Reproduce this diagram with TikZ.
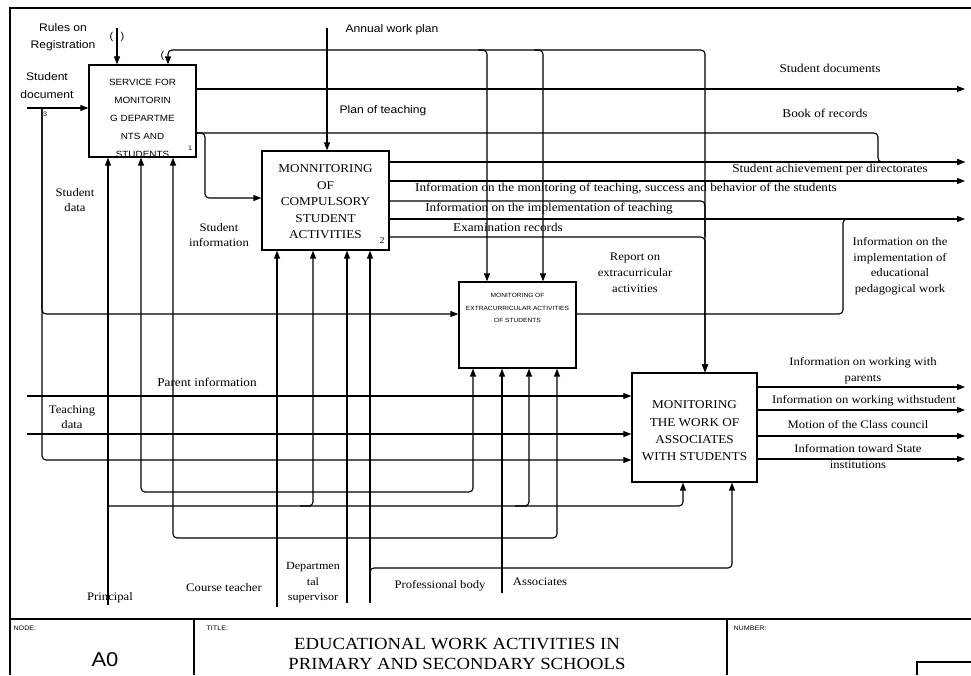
\documentclass[tikz,border=0pt]{standalone}
\usepackage{fontspec}
\setmainfont{Liberation Serif}
\newfontfamily\lserif[FakeStretch=1.1]{Liberation Serif}
\newfontfamily\lsans[FakeStretch=1.1]{Liberation Sans}
\usetikzlibrary{arrows.meta}
\begin{document}
\begin{tikzpicture}[x=1pt,y=-1pt,line width=1.1pt,
  arr/.style={-{Triangle[length=8pt,width=6pt]}},
  rc/.style={rounded corners=4pt},
  box/.style={draw,line width=1.3pt,inner sep=0pt},
  lbl/.style={font=\lserif\fontsize{12}{15.5}\selectfont,align=center,inner sep=0pt},
  slbl/.style={font=\lsans\fontsize{11}{16.5}\selectfont,align=center,inner sep=0pt},
  tiny/.style={font=\lsans\fontsize{6.5}{8}\selectfont,inner sep=0pt}]
\useasboundingbox (0,0) rectangle (971,675);
% frame and title block
\draw (10,675) -- (10,8) -- (971,8);
\draw (10,619) -- (971,619);
\draw (194,619) -- (194,675);
\draw (727,619) -- (727,675);
\draw (917,675) -- (917,662) -- (971,662);
\node[tiny,anchor=west] (nodel) at (13,628) {NODE:};
\node[tiny,anchor=west] (titlel) at (206,628) {TITLE:};
\node[tiny,anchor=west] (numl) at (733,628) {NUMBER:};
\node[font=\lsans\fontsize{20}{22}\selectfont,inner sep=0pt] (a0) at (105,660) {A0};
\node[font=\lserif\fontsize{17}{20}\selectfont,align=center,inner sep=0pt] (title) at (457,654) {EDUCATIONAL WORK ACTIVITIES IN\\PRIMARY AND SECONDARY SCHOOLS};
% boxes
\node[box,minimum width=107pt,minimum height=92pt] (b1) at (142.5,111) {};
\node[box,minimum width=127pt,minimum height=99pt] (b2) at (325.5,200.5) {};
\node[box,minimum width=117pt,minimum height=86pt] (b3) at (517.5,325) {};
\node[box,minimum width=125pt,minimum height=109pt] (b4) at (694.5,427.5) {};
\node[font=\lsans\fontsize{9}{18}\selectfont,align=center,inner sep=0pt] (t1) at (142.5,118.5) {SERVICE FOR\\MONITORIN\\G DEPARTME\\NTS AND\\STUDENTS};
\node[font=\lserif\fontsize{12}{16.5}\selectfont,align=center,inner sep=0pt] (t2) at (325.5,202) {MONNITORING\\OF\\COMPULSORY\\STUDENT\\ACTIVITIES};
\node[font=\lsans\fontsize{6}{12.5}\selectfont,align=center,inner sep=0pt] (t3) at (517.5,308) {MONITORING OF\\EXTRACURRICULAR ACTIVITIES\\OF STUDENTS};
\node[font=\lserif\fontsize{12}{17.3}\selectfont,align=center,inner sep=0pt] (t4) at (694.5,431) {MONITORING\\THE WORK OF\\ASSOCIATES\\WITH STUDENTS};
\node[tiny] (n1) at (190,148) {1};
\node[font=\lserif\fontsize{9}{10}\selectfont,inner sep=0pt] (n2) at (382,241) {2};
% inputs and controls of box 1
\draw[arr] (117,28) -- (117,0 |- b1.north);
\node[font=\lsans\fontsize{10}{12}\selectfont,inner sep=0pt] (tp1) at (111.5,37) {(};
\node[font=\lsans\fontsize{10}{12}\selectfont,inner sep=0pt] (tp2) at (122.5,37) {)};
\node[font=\lsans\fontsize{10}{12}\selectfont,inner sep=0pt] (tp3) at (162.5,56) {(};
\node[slbl] (rules) at (63,37) {Rules on\\Registration};
\draw[arr] (27,108) -- (0,108 -| b1.west);
\node[slbl,font=\lsans\fontsize{11}{18}\selectfont] (sdoc) at (47,86) {Student\\document};
\node[tiny] (n3) at (45,114) {3};
% student data branches
\draw[arr,rc] (42,108) |- (0,314 -| b3.west);
\draw[arr,rc] (42,108) |- (0,460 -| b4.west);
\node[lbl,font=\lserif\fontsize{11.5}{15}\selectfont] (sdata) at (75,200) {Student\\data};
% other inputs to box 4
\draw[arr] (27,396) -- (0,396 -| b4.west);
\draw[arr] (27,434) -- (0,434 -| b4.west);
\node[lbl] (parent) at (207,382) {Parent information};
\node[lbl,font=\lserif\fontsize{11.5}{15}\selectfont] (tdata) at (72,417) {Teaching\\data};
% annual work plan
\draw[arr] (327,28) -- (327,0 |- b2.north);
\node[slbl] (annual) at (392,30) {Annual work plan};
\node[slbl] (plan) at (383,111) {Plan of teaching};
% box 1 outputs
\draw[arr] (0,89 -| b1.east) -- (965,89);
\node[lbl] (sdocs) at (830,68) {Student documents};
\draw[arr,rc] (0,133 -| b1.east) -| (205,198) -- (0,198 -| b2.west);
\node[lbl,font=\lserif\fontsize{11.5}{15.5}\selectfont] (sinfo) at (219,235) {Student\\information};
\draw[arr,rc] (0,133 -| b1.east) -| (878,162) -- (965,162);
\node[lbl] (book) at (825,113) {Book of records};
% box 2 outputs
\draw[arr] (0,162 -| b2.east) -- (965,162);
\node[lbl] (achiev) at (830,170) {Student achievement per directorates};
\draw[arr] (0,181 -| b2.east) -- (965,181);
\node[lbl] (infomon) at (626,189) {Information on the monitoring of teaching, success and behavior of the students};
\draw[arr] (0,219 -| b2.east) -- (965,219);
\node[lbl] (infoimp) at (549,209) {Information on the implementation of teaching};
\node[lbl] (exam) at (508,227) {Examination records};
% feedback loop
\draw[arr,rc] (0,201 -| b2.east) -| (705,0 |- b4.north);
\draw[arr,rc] (0,237 -| b2.east) -| (705,0 |- b4.north);
\draw[arr,rc] (705,237) |- (168,50) -- (168,0 |- b1.north);
\draw[arr,rc] (478,50) -| (487,0 |- b3.north);
\draw[arr,rc] (534,50) -| (543,0 |- b3.north);
% box 3 output
\draw[rc] (0,314 -| b3.east) -| (843,219) -- (856,219);
\node[lbl,font=\lserif\fontsize{11.5}{16}\selectfont] (report) at (635,273) {Report on\\extracurricular\\activities};
\node[lbl,font=\lserif\fontsize{11.5}{15.5}\selectfont] (infoped) at (900,266) {Information on the\\implementation of\\educational\\pedagogical work};
% box 4 outputs
\draw[arr] (0,387 -| b4.east) -- (965,387);
\draw[arr] (0,410 -| b4.east) -- (965,410);
\draw[arr] (0,436 -| b4.east) -- (965,436);
\draw[arr] (0,459 -| b4.east) -- (965,459);
\node[lbl,font=\lserif\fontsize{11.5}{16}\selectfont] (wpar) at (863,371) {Information on working with\\parents};
\node[lbl,font=\lserif\fontsize{11.5}{16}\selectfont] (wstu) at (864,401) {Information on working withstudent};
\node[lbl,font=\lserif\fontsize{11.5}{16}\selectfont] (motion) at (858,424) {Motion of the Class council};
\node[lbl,font=\lserif\fontsize{11.5}{16}\selectfont] (state) at (858,456) {Information toward State\\institutions};
% mechanisms: Principal
\draw[arr] (108,605) -- (108,0 |- b1.south);
\draw[arr,rc] (108,506) -| (683,0 |- b4.south);
\draw[arr,rc] (300,506) -| (313,0 |- b2.south);
\draw[arr,rc] (515,506) -| (529,0 |- b3.south);
\node[lbl,font=\lserif\fontsize{11.5}{15}\selectfont] (princ) at (110,598) {Principal};
% Course teacher
\draw[arr] (277,607) -- (277,0 |- b2.south);
\draw[arr,rc] (277,492) -| (141,0 |- b1.south);
\draw[arr,rc] (277,492) -| (473,0 |- b3.south);
\node[lbl,font=\lserif\fontsize{11.5}{15}\selectfont] (course) at (224,588) {Course teacher};
% Departmental supervisor
\draw[arr] (347,603) -- (347,0 |- b2.south);
\draw[arr,rc] (347,538) -| (173,0 |- b1.south);
\draw[arr,rc] (347,538) -| (557,0 |- b3.south);
\node[lbl,font=\lserif\fontsize{11}{15.5}\selectfont] (dept) at (313,583) {Departmen\\tal\\supervisor};
% Professional body
\draw[arr] (370,603) -- (370,0 |- b2.south);
\draw[arr,rc] (370,580) |- (732,568) -- (732,0 |- b4.south);
\node[lbl,font=\lserif\fontsize{11.5}{15}\selectfont] (prof) at (440,586) {Professional body};
% Associates
\draw[arr] (502,593) -- (502,0 |- b3.south);
\node[lbl,font=\lserif\fontsize{11.5}{15}\selectfont] (assoc) at (540,582) {Associates};
\end{tikzpicture}
\end{document}
